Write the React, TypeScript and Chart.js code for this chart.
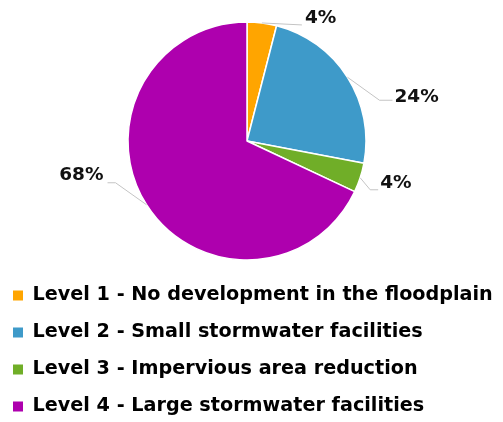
import React, { useEffect, useRef } from "react";
import { Chart, registerables } from "chart.js";

Chart.register(...registerables);

const categories = [
  "Level 1 - No development in the floodplain",
  "Level 2 - Small stormwater facilities",
  "Level 3 - Impervious area reduction",
  "Level 4 - Large stormwater facilities",
];
const shares = [4, 24, 4, 68];
const valueLabels = ["4%", "24%", "4%", "68%"];
const colors = ["#FFA500", "#3E9AC9", "#70AE28", "#AE00AE"];

// leader line geometry relative to the slice's outer mid-point: [elbow, end, text, align]
const leaderStyle: { elbow: [number, number]; end: [number, number]; text: [number, number]; align: CanvasTextAlign }[] = [
  { elbow: [40, 2], end: [40, 2], text: [43, -5], align: "left" },
  { elbow: [32, 23], end: [45, 23], text: [47, 20], align: "left" },
  { elbow: [10, 12], end: [18, 12], text: [20, 5], align: "left" },
  { elbow: [-31, -22], end: [-39, -22], text: [-43, -30], align: "right" },
];

const outsideLabels = {
  id: "outsideLabels",
  afterDatasetsDraw(chart: any) {
    const ctx = chart.ctx;
    const meta = chart.getDatasetMeta(0);
    ctx.save();
    meta.data.forEach((arc: any, i: number) => {
      const { x, y, startAngle, endAngle, outerRadius } = arc.getProps(
        ["x", "y", "startAngle", "endAngle", "outerRadius"],
        true
      );
      const mid = (startAngle + endAngle) / 2;
      const ax = x + Math.cos(mid) * outerRadius;
      const ay = y + Math.sin(mid) * outerRadius;
      const s = leaderStyle[i];
      ctx.strokeStyle = "#c4c4c4";
      ctx.lineWidth = 1;
      ctx.beginPath();
      ctx.moveTo(ax, ay);
      ctx.lineTo(ax + s.elbow[0], ay + s.elbow[1]);
      ctx.lineTo(ax + s.end[0], ay + s.end[1]);
      ctx.stroke();
      ctx.fillStyle = "#111111";
      ctx.font = "bold 18.5px 'DejaVu Sans'";
      ctx.textAlign = s.align;
      ctx.textBaseline = "middle";
      ctx.fillText(valueLabels[i], ax + s.text[0], ay + s.text[1]);
    });
    ctx.restore();
  },
};

export default function App() {
  const ref = useRef<HTMLCanvasElement | null>(null);
  useEffect(() => {
    if (!ref.current) return;
    const chart = new Chart(ref.current, {
      type: "pie",
      data: {
        labels: categories,
        datasets: [
          {
            data: shares,
            backgroundColor: colors,
            borderColor: "#ffffff",
            borderWidth: 1.5,
            radius: 119,
          },
        ],
      },
      options: {
        animation: false,
        responsive: false,
        layout: { padding: { left: -4.8, right: 9, top: 14, bottom: -4 } },
        plugins: {
          tooltip: { enabled: false },
          legend: {
            position: "bottom",
            align: "start",
            labels: {
              boxWidth: 10,
              boxHeight: 10,
              padding: 17.8,
              color: "#111111",
              font: { family: "'DejaVu Sans'", size: 19.2, weight: "bold" },
              generateLabels: () =>
                categories.map((t, i) => ({
                  text: t,
                  fillStyle: colors[i],
                  strokeStyle: colors[i],
                  lineWidth: 0,
                  hidden: false,
                  index: i,
                })),
            },
          },
        },
      },
      plugins: [outsideLabels],
    });
    return () => chart.destroy();
  }, []);
  return (
    <div style={{ position: "fixed", left: 0, top: 0, width: 503, height: 422, overflow: "hidden", background: "#fff" }}>
      <canvas ref={ref} width={503} height={422} style={{ display: "block" }} />
    </div>
  );
}
